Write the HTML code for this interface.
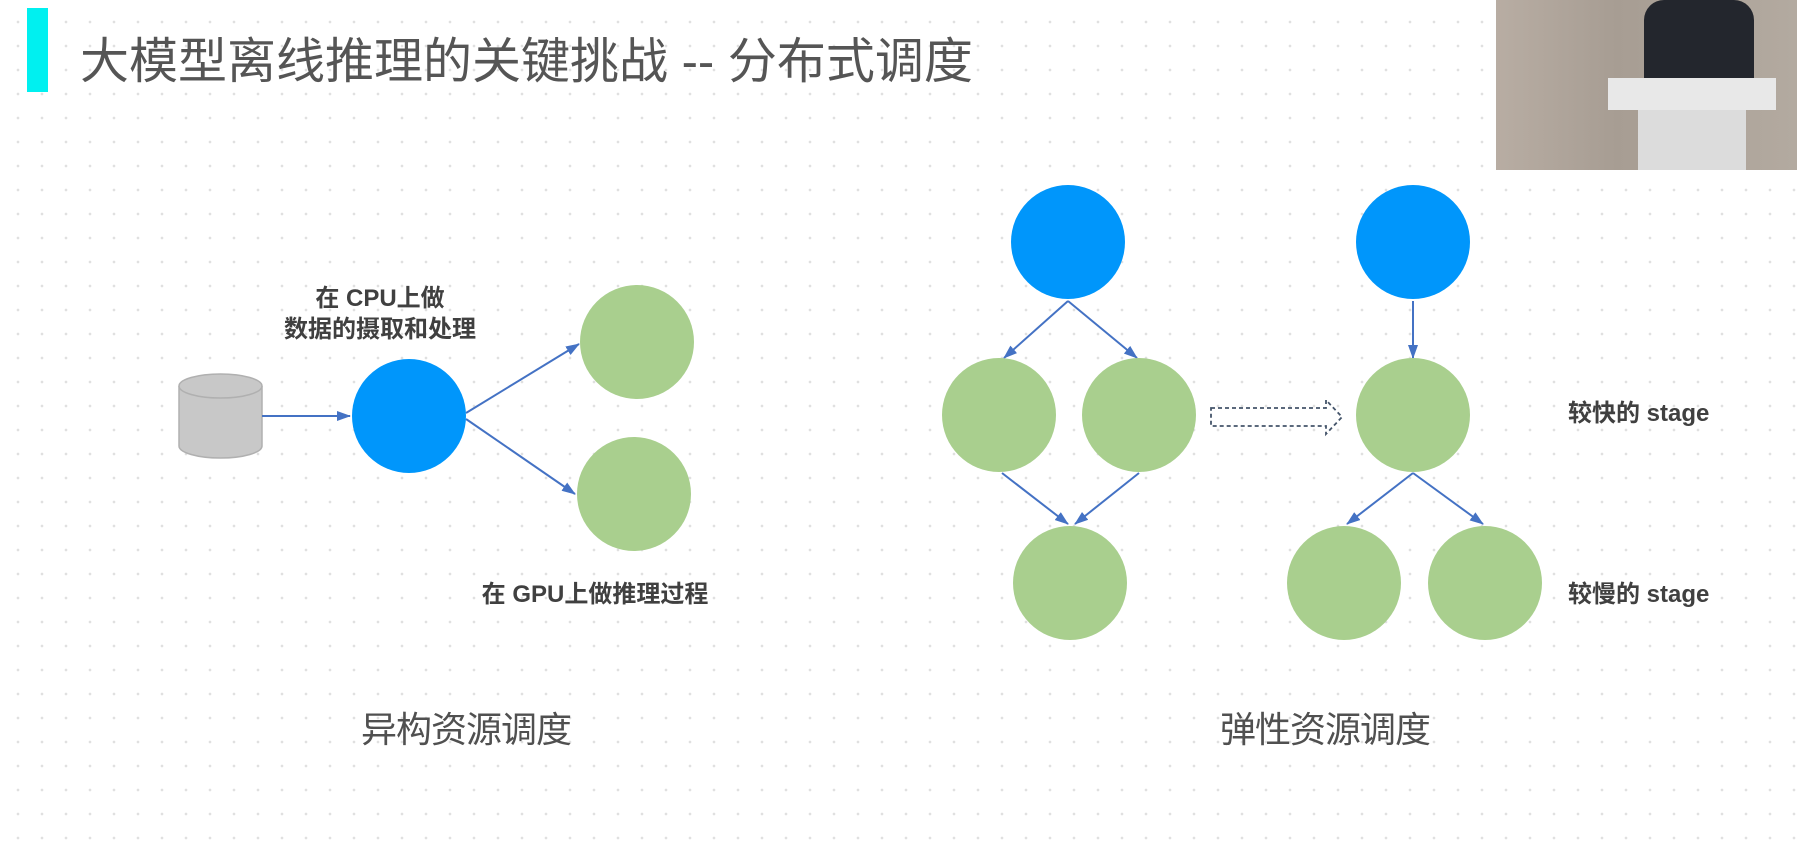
<!DOCTYPE html>
<html><head><meta charset="utf-8"><style>
html,body{margin:0;padding:0}
body{width:1797px;height:860px;overflow:hidden;position:relative;background:#fff;
background-image:radial-gradient(circle,#e0e0e0 1.1px,transparent 1.6px);background-size:24px 24px;background-position:6px 10px;
font-family:"Liberation Sans","Noto Sans CJK SC",sans-serif;}
.t{position:absolute;white-space:nowrap;color:#404040}
</style></head><body>
<div style="position:absolute;left:27px;top:8px;width:21px;height:84px;background:#00f0f0"></div>
<div class="t" style="left:80px;top:22px;font-size:49px;color:#555;letter-spacing:0">大模型离线推理的关键挑战 -- 分布式调度</div>
<div style="position:absolute;left:1496px;top:0;width:301px;height:170px;background:linear-gradient(90deg,#b8ada3,#a79d93 40%,#b3aaa0)">
 <div style="position:absolute;left:148px;top:0;width:110px;height:80px;background:#23262d;border-radius:20px 20px 0 0"></div>
 <div style="position:absolute;left:112px;top:78px;width:168px;height:32px;background:#e8e8e8"></div>
 <div style="position:absolute;left:142px;top:110px;width:108px;height:60px;background:#dcdcdc"></div>
</div>
<svg width="1797" height="860" style="position:absolute;left:0;top:0">
<defs><marker id="a" markerWidth="14" markerHeight="10" refX="13" refY="5" orient="auto" markerUnits="userSpaceOnUse"><path d="M0,0L14,5L0,10z" fill="#4472c4"/></marker></defs>
<g fill="#c8c8c8" stroke="#b0b0b0" stroke-width="1.5">
<path d="M179,386 V446 A41.5,12 0 0 0 262,446 V386"/>
<ellipse cx="220.5" cy="386" rx="41.5" ry="12"/>
</g>
<g stroke="#4472c4" stroke-width="2" fill="none" marker-end="url(#a)">
<line x1="262" y1="416" x2="350" y2="416"/>
<line x1="466" y1="413" x2="579" y2="344"/>
<line x1="466" y1="419" x2="575" y2="494"/>
<line x1="1068" y1="301" x2="1004" y2="358"/>
<line x1="1068" y1="301" x2="1137" y2="358"/>
<line x1="1002" y1="473" x2="1068" y2="524"/>
<line x1="1139" y1="473" x2="1075" y2="524"/>
<line x1="1413" y1="301" x2="1413" y2="358"/>
<line x1="1413" y1="473" x2="1347" y2="524"/>
<line x1="1413" y1="473" x2="1483" y2="524"/>
</g>
<g fill="#0096fb"><circle cx="409" cy="416" r="57"/><circle cx="1068" cy="242" r="57"/><circle cx="1413" cy="242" r="57"/></g>
<g fill="#a9cf8e">
<circle cx="637" cy="342" r="57"/><circle cx="634" cy="494" r="57"/>
<circle cx="999" cy="415" r="57"/><circle cx="1139" cy="415" r="57"/><circle cx="1070" cy="583" r="57"/>
<circle cx="1413" cy="415" r="57"/><circle cx="1344" cy="583" r="57"/><circle cx="1485" cy="583" r="57"/>
</g>
<path d="M1211,408 H1326 V400 L1342,417 L1326,434 V426 H1211 Z" fill="none" stroke="#44546a" stroke-width="1.8" stroke-dasharray="4,3"/>
</svg>
<div class="t" style="left:380px;top:278px;transform:translateX(-50%);font-size:24px;font-weight:bold">在 CPU上做</div>
<div class="t" style="left:380px;top:309px;transform:translateX(-50%);font-size:24px;font-weight:bold">数据的摄取和处理</div>
<div class="t" style="left:595px;top:574px;transform:translateX(-50%);font-size:24px;font-weight:bold">在 GPU上做推理过程</div>
<div class="t" style="left:1568px;top:393px;font-size:24px;font-weight:bold">较快的 stage</div>
<div class="t" style="left:1568px;top:574px;font-size:24px;font-weight:bold">较慢的 stage</div>
<div class="t" style="left:361px;top:701px;font-size:36px;color:#505050;letter-spacing:-1px">异构资源调度</div>
<div class="t" style="left:1220px;top:701px;font-size:36px;color:#505050;letter-spacing:-1px">弹性资源调度</div>
</body></html>
